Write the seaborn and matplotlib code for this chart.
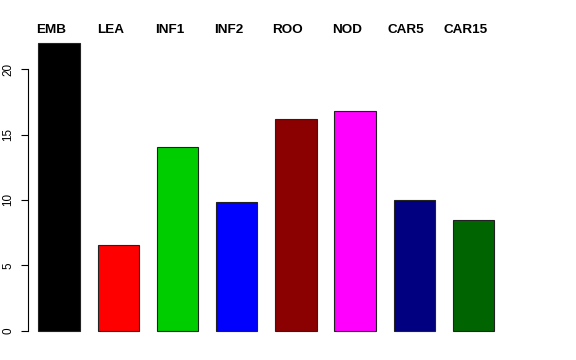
import matplotlib
matplotlib.use("Agg")

import matplotlib.pyplot as plt
import matplotlib.transforms as mtransforms
import pandas as pd
import seaborn as sns

categories = ["EMB", "LEA", "INF1", "INF2", "ROO", "NOD", "CAR5", "CAR15"]
values = [22.0, 6.55, 14.05, 9.85, 16.2, 16.8, 10.0, 8.47]
colors = ["#000000", "#FF0000", "#00CD00", "#0000FF",
          "#8B0000", "#FF00FF", "#000080", "#006400"]

sns.set_style("white")
plt.rcParams["font.family"] = ["Liberation Sans", "DejaVu Sans"]
plt.rcParams["text.color"] = "black"
plt.rcParams["ytick.color"] = "black"
plt.rcParams["ytick.labelcolor"] = "black"

df = pd.DataFrame({"cat": categories, "val": values})

fig = plt.figure(figsize=(5.76, 3.6), dpi=100)
ax = fig.add_axes([0.0486, 0.0486, 0.8273, 0.8645])

sns.barplot(data=df, x="cat", y="val", hue="cat", palette=colors,
            order=categories, hue_order=categories, legend=False,
            width=0.7, edgecolor="#222222", linewidth=0.8, saturation=1,
            ax=ax)

ax.set_xlim(-0.524, 7.524)
ax.set_ylim(-0.88, 22.88)
ax.set_xlabel("")
ax.set_ylabel("")
ax.set_xticks([])
ax.set_yticks([0, 5, 10, 15, 20])
ax.tick_params(axis="y", length=5, width=0.8, pad=5, labelsize=8.4,
               left=True, color="black", labelcolor="black")
for lab in ax.get_yticklabels():
    lab.set_rotation(90)
    lab.set_va("center")

for side in ["top", "right", "bottom"]:
    ax.spines[side].set_visible(False)
ax.spines["left"].set_bounds(0, 20)
ax.spines["left"].set_linewidth(0.8)
ax.spines["left"].set_color("black")

trans = mtransforms.blended_transform_factory(ax.transData, ax.transAxes)
for i, name in enumerate(categories):
    ax.text(i - 0.135, 1.004, name, transform=trans, ha="center", va="center",
            fontsize=9.7, fontweight="bold", color="black")

fig.savefig("out.png", dpi=100)
plt.close(fig)
